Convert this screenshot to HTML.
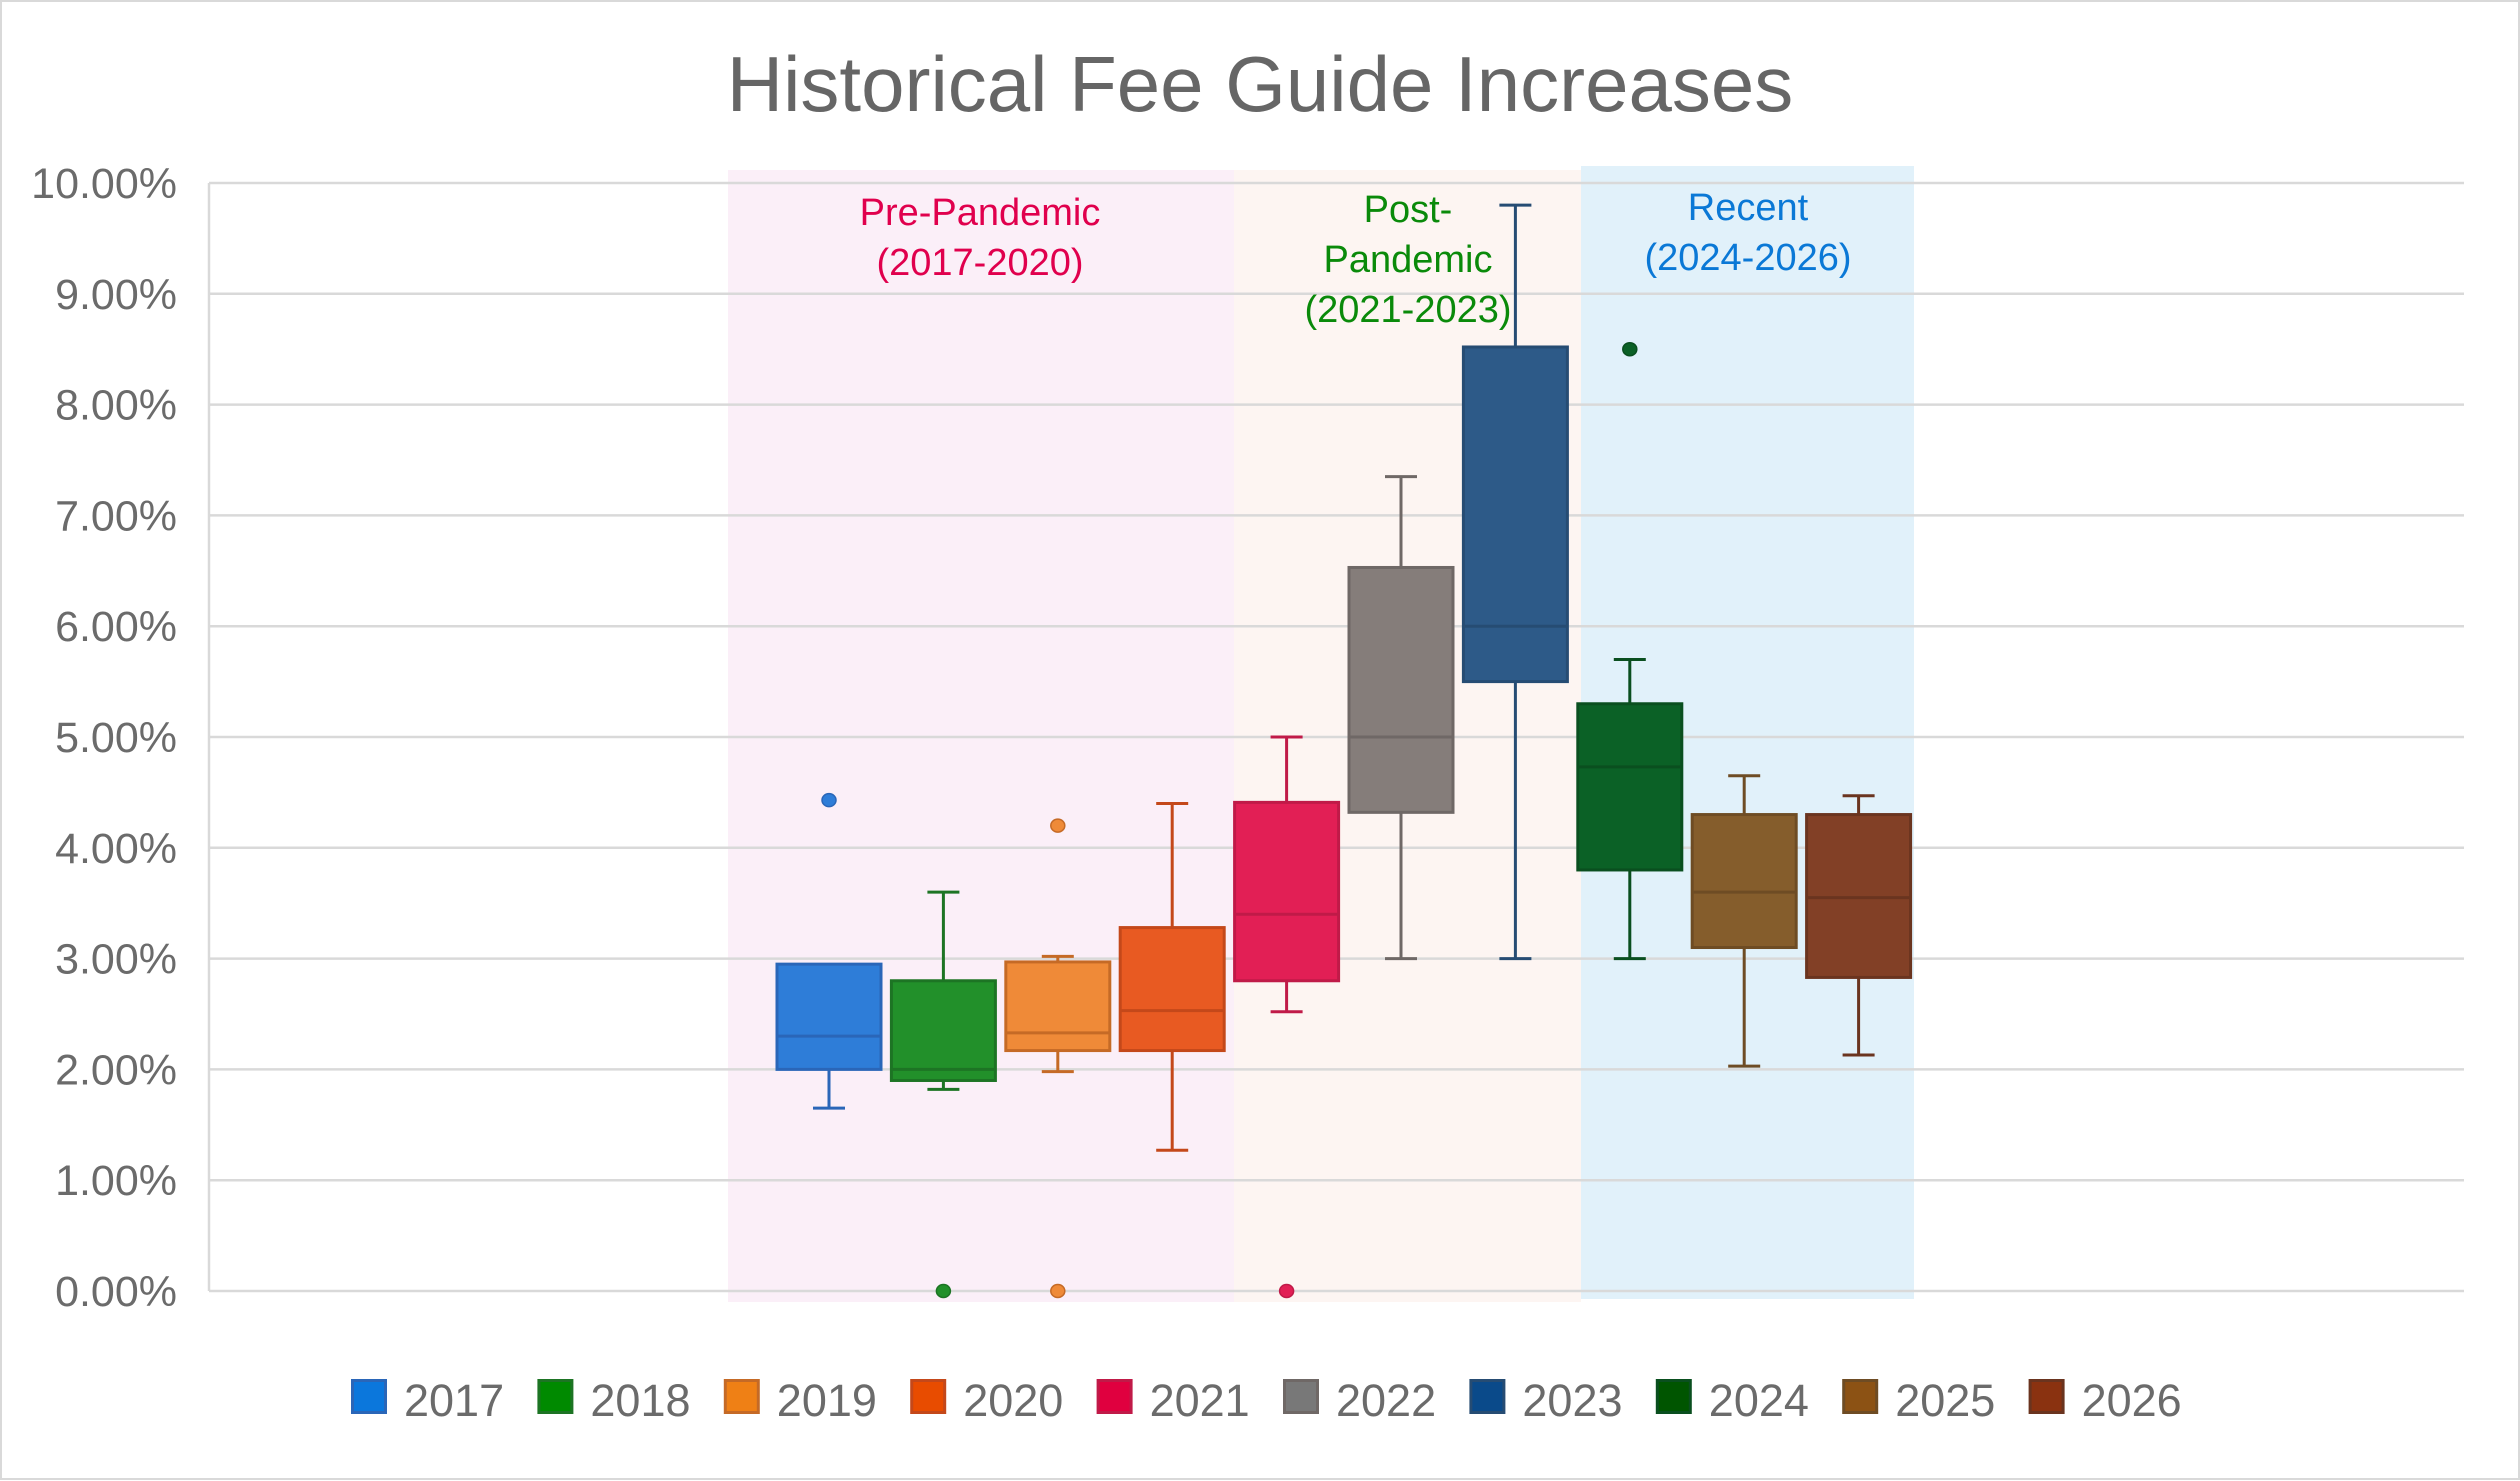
<!DOCTYPE html>
<html><head><meta charset="utf-8"><style>
html,body{margin:0;padding:0;background:#fff;}
svg{display:block;font-family:"Liberation Sans",sans-serif;}
</style></head><body>
<svg id="chart" width="2520" height="1481" viewBox="0 0 2520 1481" xmlns="http://www.w3.org/2000/svg">
<rect x="1" y="1" width="2518" height="1478" fill="#fff" stroke="#d9d9d9" stroke-width="2"/>
<text x="1260" y="111" text-anchor="middle" font-size="78" fill="#666">Historical Fee Guide Increases</text>
<g id="bands"></g><g id="grid"></g><g id="boxes"></g><g id="labels"></g><g id="legend"></g>
</svg>
<script>
const years = ['2017','2018','2019','2020','2021','2022','2023','2024','2025','2026'];
const whiskerLow = [1.65,1.82,1.98,1.27,2.52,3.0,3.0,3.0,2.03,2.13];
const q1 = [2.0,1.9,2.17,2.17,2.8,4.32,5.5,3.8,3.1,2.83];
const median = [2.3,2.0,2.33,2.53,3.4,5.0,6.0,4.73,3.6,3.55];
const q3 = [2.95,2.8,2.97,3.28,4.41,6.53,8.52,5.3,4.3,4.3];
const whiskerHigh = [2.95,3.6,3.02,4.4,5.0,7.35,9.8,5.7,4.65,4.47];
const outliers = [[4.43],[0],[4.2,0],[],[0],[],[],[8.5],[],[]];
const yTicks = [0,1,2,3,4,5,6,7,8,9,10];
const yTickLabels = ['0.00%','1.00%','2.00%','3.00%','4.00%','5.00%','6.00%','7.00%','8.00%','9.00%','10.00%'];
const fills = ['#2e7dd8','#22902a','#ef8a38','#e85a22','#e21f55','#857d7a','#2d5a88','#0b6126','#855d2c','#824026'];
const strokes = ['#2a66b8','#1d7424','#c56a26','#c4481a','#c01a48','#6f6866','#264c73','#0a4f1f','#6e4c24','#6a341f'];
const legendFills = ['#0b77dc','#008a00','#ef8015','#e84c00','#e0003f','#787878','#0a4a8a','#005500','#8c5214','#8a3210'];
const NS='http://www.w3.org/2000/svg';
function el(tag,attrs,parent){const e=document.createElementNS(NS,tag);for(const k in attrs)e.setAttribute(k,attrs[k]);parent.appendChild(e);return e;}
const yScale=v=>1291-v*110.8;
const xScale=i=>829+i*114.4;
const bands=document.getElementById('bands');
[[728,1234,170,1302,'#fbeff8','pre-pandemic-band'],[1234,1581,170,1302,'#fdf5f2','post-pandemic-band'],[1581,1914,166,1299,'#e1f1fa','recent-band']].forEach(b=>{
  const r=el('rect',{x:b[0],y:b[2],width:b[1]-b[0],height:b[3]-b[2],fill:b[4]},bands);
  
  
});
const grid=document.getElementById('grid');
yTicks.forEach((t,i)=>{
  const l=el('line',{x1:209,x2:2464,y1:yScale(t),y2:yScale(t),stroke:'#d9d9d9','stroke-width':2.5},grid);
  
  
  const tx=el('text',{x:177,y:yScale(t)+15,'text-anchor':'end','font-size':43,fill:'#6b6b6b'},grid);
  tx.textContent=yTickLabels[i];
  
  
});
const ax=el('line',{x1:209,x2:209,y1:yScale(10),y2:yScale(0),stroke:'#d9d9d9','stroke-width':2.5},grid);


const boxes=document.getElementById('boxes');
years.forEach((y,i)=>{
  const cx=xScale(i),w=104,st=strokes[i];
  const g=el('g',{},boxes);
  
  
  el('line',{x1:cx,x2:cx,y1:yScale(whiskerLow[i]),y2:yScale(q1[i]),stroke:st,'stroke-width':3},g);
  el('line',{x1:cx,x2:cx,y1:yScale(whiskerHigh[i]),y2:yScale(q3[i]),stroke:st,'stroke-width':3},g);
  el('line',{x1:cx-16,x2:cx+16,y1:yScale(whiskerLow[i]),y2:yScale(whiskerLow[i]),stroke:st,'stroke-width':3},g);
  if(whiskerHigh[i]>q3[i]) el('line',{x1:cx-16,x2:cx+16,y1:yScale(whiskerHigh[i]),y2:yScale(whiskerHigh[i]),stroke:st,'stroke-width':3},g);
  el('rect',{x:cx-w/2,y:yScale(q3[i]),width:w,height:yScale(q1[i])-yScale(q3[i]),fill:fills[i],stroke:st,'stroke-width':3},g);
  el('line',{x1:cx-w/2,x2:cx+w/2,y1:yScale(median[i]),y2:yScale(median[i]),stroke:st,'stroke-width':3},g);
  outliers[i].forEach(o=>{
    const c=el('ellipse',{cx:cx,cy:yScale(o),rx:7,ry:6.5,fill:fills[i],stroke:st,'stroke-width':1.5},g);
    
    
  });
});
const labels=document.getElementById('labels');
[[980,[212,262],['Pre-Pandemic','(2017-2020)'],'#e0004d','pre-pandemic-label'],
 [1408,[209,259,309],['Post-','Pandemic','(2021-2023)'],'#0a8a0a','post-pandemic-label'],
 [1748,[207,257],['Recent','(2024-2026)'],'#0a78d6','recent-label']].forEach(a=>{
  const t=el('text',{x:a[0],'text-anchor':'middle','font-size':38,fill:a[3]},labels);
  
  
  a[2].forEach((s,k)=>{const sp=el('tspan',{x:a[0],y:a[1][k]+13},t);sp.textContent=s;});
});
const legend=document.getElementById('legend');
years.forEach((y,i)=>{
  const x=351+i*186.4;
  const g=el('g',{},legend);
  
  
  el('rect',{x:x+1.5,y:1380.5,width:33,height:32,fill:legendFills[i],stroke:strokes[i],'stroke-width':3},g);
  const t=el('text',{x:x+53,y:1416,'font-size':45,fill:'#6b6b6b'},g);
  t.textContent=y;
});
</script>
</body></html>
